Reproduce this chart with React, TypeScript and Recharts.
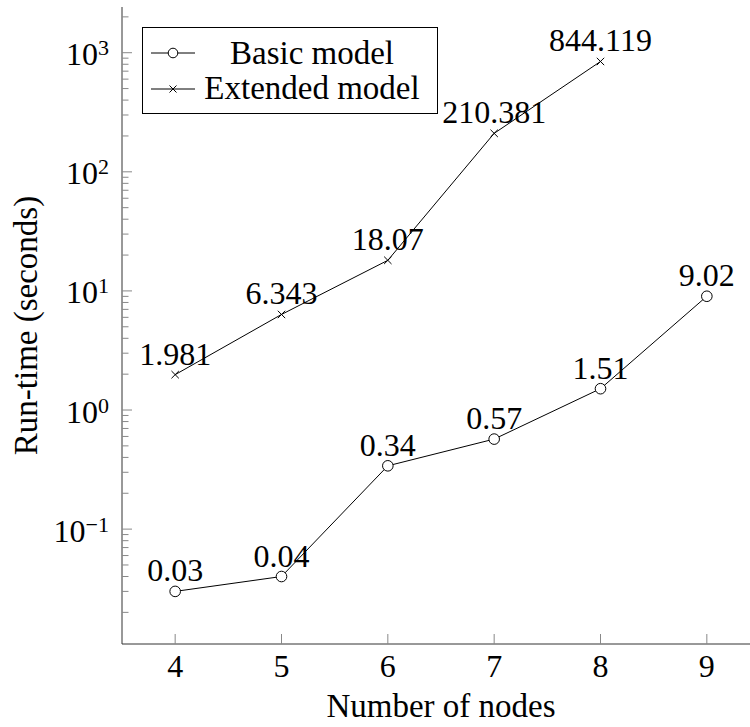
import { LineChart, Line, XAxis, YAxis, Legend, LabelList } from 'recharts';

const nodes = [4, 5, 6, 7, 8, 9];
const basicModel = [0.03, 0.04, 0.34, 0.57, 1.51, 9.02];
const extendedModel = [1.981, 6.343, 18.07, 210.381, 844.119, null];
const xTicks = [4, 5, 6, 7, 8, 9];
const yMajorTicks = [0.1, 1, 10, 100, 1000];
const yExponents = ['−1', '0', '1', '2', '3'];
const yMinorTicks = [
  0.02, 0.03, 0.04, 0.05, 0.06, 0.07, 0.08, 0.09,
  0.2, 0.3, 0.4, 0.5, 0.6, 0.7, 0.8, 0.9,
  2, 3, 4, 5, 6, 7, 8, 9,
  20, 30, 40, 50, 60, 70, 80, 90,
  200, 300, 400, 500, 600, 700, 800, 900,
  2000,
];
const yDomain = [0.01085, 2420];
const xDomain = [3.5, 9.5];

const FONT = "'Liberation Serif', 'Times New Roman', 'DejaVu Serif', serif";
const TICK = '#888';
const AXIS = '#333';

const data = nodes.map((n, i) => ({ n, basic: basicModel[i], extended: extendedModel[i] }));

const textStyle = { fontFamily: FONT };

function YTick({ x, y, payload }: any) {
  const i = yMajorTicks.indexOf(payload.value);
  const major = i >= 0;
  return (
    <g>
      <line x1={x} x2={x + (major ? 10 : 6.5)} y1={y} y2={y} stroke={TICK} />
      {major && (
        <text x={x - 13} y={y + 12.5} textAnchor="end" style={textStyle} fontSize={32} fill="#000">
          10<tspan dy={-10} fontSize={22}>{yExponents[i]}</tspan>
        </text>
      )}
    </g>
  );
}

function XTick({ x, y, payload }: any) {
  return (
    <g>
      <line x1={x} x2={x} y1={y} y2={y - 10} stroke={TICK} />
      <text x={x} y={y + 33} textAnchor="middle" style={textStyle} fontSize={32} fill="#000">
        {payload.value}
      </text>
    </g>
  );
}

function TopTick({ x, y }: any) {
  return <line x1={x} x2={x} y1={y} y2={y + 10} stroke={TICK} />;
}

function CircleDot({ cx, cy, value }: any) {
  if (value == null || cy == null || isNaN(cy)) return null;
  return <circle cx={cx} cy={cy} r={5.3} fill="#fff" stroke="#000" strokeWidth={1} />;
}

function CrossDot({ cx, cy, value }: any) {
  if (value == null || cy == null || isNaN(cy)) return null;
  const s = 3.7;
  return (
    <g stroke="#000" strokeWidth={1}>
      <line x1={cx - s} y1={cy - s} x2={cx + s} y2={cy + s} />
      <line x1={cx - s} y1={cy + s} x2={cx + s} y2={cy - s} />
    </g>
  );
}

function LegendBox() {
  const s = 3.5;
  return (
    <svg width={297} height={88} style={{ display: 'block' }}>
      <rect x={0.5} y={0.5} width={295} height={86} fill="#fff" stroke="#000" />
      <line x1={9} x2={53} y1={26} y2={26} stroke="#000" />
      <circle cx={31} cy={26} r={4.8} fill="#fff" stroke="#000" />
      <text x={170} y={36.5} textAnchor="middle" style={textStyle} fontSize={33} fill="#000">
        Basic model
      </text>
      <line x1={9} x2={53} y1={62} y2={62} stroke="#000" />
      <line x1={31 - s} y1={62 - s} x2={31 + s} y2={62 + s} stroke="#000" />
      <line x1={31 - s} y1={62 + s} x2={31 + s} y2={62 - s} stroke="#000" />
      <text x={170} y={71.5} textAnchor="middle" style={textStyle} fontSize={33} fill="#000">
        Extended model
      </text>
    </svg>
  );
}

export default function App() {
  return (
    <div style={{ position: 'absolute', left: 0, top: 0, width: 750, height: 727, overflow: 'hidden', background: '#fff', fontFamily: FONT }}>
      <LineChart width={780} height={727} data={data} margin={{ top: 7, right: 20, bottom: 0, left: 0 }} style={{ fontFamily: FONT }}>
        <XAxis
          dataKey="n"
          type="number"
          domain={xDomain}
          ticks={xTicks}
          interval={0}
          height={83}
          tickSize={0}
          tickMargin={0}
          tickLine={false}
          tick={<XTick />}
          axisLine={{ stroke: AXIS }}
          allowDataOverflow
          label={{
            content: ({ viewBox }: any) => {
              const vb = viewBox || { x: 122, y: 644, width: 638, height: 83 };
              return (
                <text x={vb.x + vb.width / 2} y={vb.y + 73} textAnchor="middle" style={textStyle} fontSize={33} fill="#000">
                  Number of nodes
                </text>
              );
            },
          }}
        />
        <XAxis
          xAxisId="top"
          orientation="top"
          dataKey="n"
          type="number"
          domain={xDomain}
          ticks={xTicks}
          interval={0}
          height={0}
          tickSize={0}
          tickMargin={0}
          tickLine={false}
          tick={<TopTick />}
          axisLine={{ stroke: AXIS }}
          allowDataOverflow
        />
        <YAxis
          type="number"
          scale="log"
          domain={yDomain}
          allowDataOverflow
          ticks={[...yMajorTicks, ...yMinorTicks]}
          interval={0}
          width={122}
          tickSize={0}
          tickMargin={0}
          tickLine={false}
          tick={<YTick />}
          axisLine={{ stroke: AXIS }}
          label={{
            content: ({ viewBox }: any) => {
              const vb = viewBox || { x: 0, y: 7, width: 122, height: 637 };
              const cx = vb.x + 37;
              const cy = vb.y + vb.height / 2;
              return (
                <text x={cx} y={cy} transform={`rotate(-90, ${cx}, ${cy})`} textAnchor="middle" style={textStyle} fontSize={33} fill="#000">
                  Run-time (seconds)
                </text>
              );
            },
          }}
        />
        <Legend
          verticalAlign="middle"
          layout="horizontal"
          wrapperStyle={{ left: 142, top: 27, width: 297, height: 88 }}
          content={() => <LegendBox />}
        />
        <Line
          dataKey="basic"
          name="Basic model"
          type="linear"
          stroke="#000"
          strokeWidth={1}
          dot={<CircleDot />}
          activeDot={false}
          isAnimationActive={false}
        >
          <LabelList dataKey="basic" position="top" offset={10} fill="#000" fontSize={32} style={textStyle} />
        </Line>
        <Line
          dataKey="extended"
          name="Extended model"
          type="linear"
          stroke="#000"
          strokeWidth={1}
          dot={<CrossDot />}
          activeDot={false}
          isAnimationActive={false}
        >
          <LabelList dataKey="extended" position="top" offset={10} fill="#000" fontSize={32} style={textStyle} />
        </Line>
      </LineChart>
    </div>
  );
}
